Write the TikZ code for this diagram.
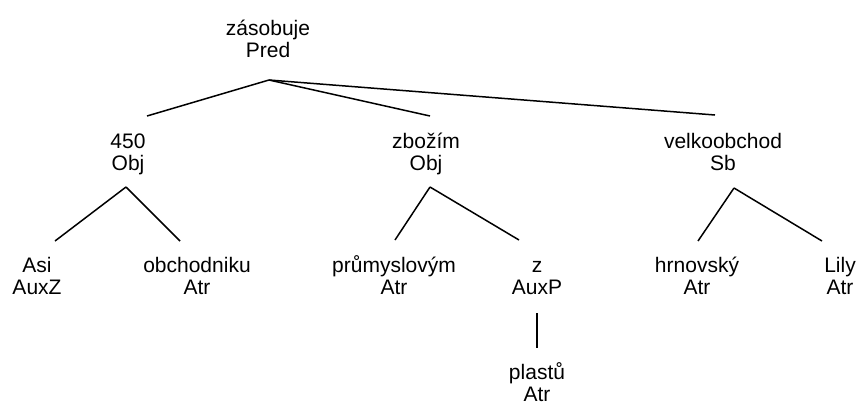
\documentclass[tikz,border=0pt]{standalone}
\usepackage{fontspec}
\setmainfont{Liberation Sans}
\begin{document}
\begin{tikzpicture}[x=1pt,y=-1pt,
  lbl/.style={inner sep=0pt,align=center,anchor=base,font=\fontsize{21}{22}\selectfont},
  edge/.style={draw=black,line width=1.5pt}]
\useasboundingbox[fill=white] (0,0) rectangle (858,405);
% nodes (anchor = baseline of the last line)
\node[lbl] (root) at (268,57) {zásobuje\\Pred};
\node[lbl] (n450) at (128,170) {450\\Obj};
\node[lbl] (zbozim) at (426,170) {zbožím\\Obj};
\node[lbl] (velko) at (723,170) {velkoobchod\\Sb};
\node[lbl] (asi) at (37,294) {Asi\\AuxZ};
\node[lbl] (obch) at (197,294) {obchodniku\\Atr};
\node[lbl] (prum) at (394,294) {průmyslovým\\Atr};
\node[lbl] (z) at (537,294) {z\\AuxP};
\node[lbl] (hrn) at (697,294) {hrnovský\\Atr};
\node[lbl] (lily) at (840,294) {Lily\\Atr};
\node[lbl] (plastu) at (537,401) {plastů\\Atr};
% connection points
\coordinate (root-b) at (269,80);
\coordinate (n450-t) at (147,116);
\coordinate (n450-b) at (126,187);
\coordinate (zbozim-t) at (430,116);
\coordinate (zbozim-b) at (430,187);
\coordinate (velko-t) at (715,115);
\coordinate (velko-b) at (734,188);
\coordinate (asi-t) at (55,241);
\coordinate (obch-t) at (180,241);
\coordinate (prum-t) at (395,240);
\coordinate (z-t) at (519,240);
\coordinate (z-b) at (537,313);
\coordinate (hrn-t) at (698,241);
\coordinate (lily-t) at (822,241);
\coordinate (plastu-t) at (537,348);
% edges
\draw[edge] (root-b) -- (n450-t);
\draw[edge] (root-b) -- (zbozim-t);
\draw[edge] (root-b) -- (velko-t);
\draw[edge] (n450-b) -- (asi-t);
\draw[edge] (n450-b) -- (obch-t);
\draw[edge] (zbozim-b) -- (prum-t);
\draw[edge] (zbozim-b) -- (z-t);
\draw[edge] (velko-b) -- (hrn-t);
\draw[edge] (velko-b) -- (lily-t);
\draw[edge] (z-b) -- (plastu-t);
\end{tikzpicture}
\end{document}
